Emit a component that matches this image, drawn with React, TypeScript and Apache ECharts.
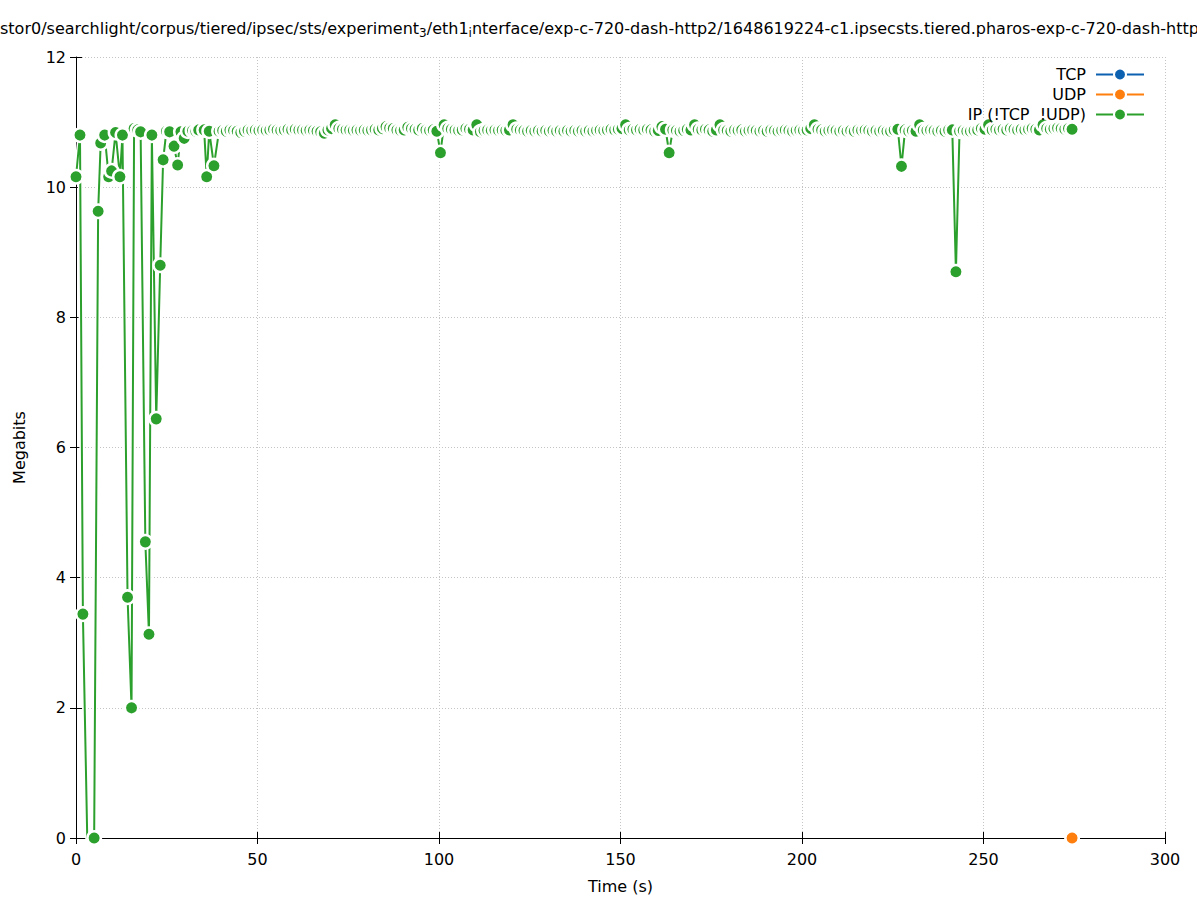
import React, { useEffect, useRef } from 'react';
import * as echarts from 'echarts';

// ---- data ----
// first 40 s (irregular spacing, deep drops)
const ipTimeEarlyS = [
  0.0, 1.1, 1.9, 3.1, 5.0, 6.1, 6.8, 7.9, 9.0, 9.8, 10.9, 12.1, 12.8, 14.2, 15.3, 16.0, 17.0, 17.8,
  19.1, 20.1, 20.9, 22.1, 23.2, 24.0, 24.9, 25.8, 27.0, 28.0, 28.9, 29.8, 30.8, 32.1, 33.0, 33.8,
  35.3, 36.0, 36.7, 38.0,
];
const ipMegabitsEarly = [
  10.16, 10.8, 3.44, 0.0, 0.0, 9.63, 10.68, 10.8, 10.16, 10.25, 10.84, 10.16, 10.8, 3.7, 2.0, 10.9, 10.88, 10.85,
  4.55, 3.13, 10.8, 6.44, 8.8, 10.42, 10.86, 10.85, 10.63, 10.34, 10.85, 10.75, 10.86, 10.87, 10.86, 10.88,
  10.88, 10.16, 10.86, 10.33,
];
// rest of the capture, one sample per second
const ipTimeLateS = [
  39.4, 40.4, 41.4, 42.4, 43.4, 44.4, 45.4, 46.4, 47.4, 48.4,
  49.4, 50.4, 51.4, 52.4, 53.4, 54.4, 55.4, 56.4, 57.4, 58.4,
  59.4, 60.4, 61.4, 62.4, 63.4, 64.4, 65.4, 66.4, 67.4, 68.4,
  69.4, 70.4, 71.4, 72.4, 73.4, 74.4, 75.4, 76.4, 77.4, 78.4,
  79.4, 80.4, 81.4, 82.4, 83.4, 84.4, 85.4, 86.4, 87.4, 88.4,
  89.4, 90.4, 91.4, 92.4, 93.4, 94.4, 95.4, 96.4, 97.4, 98.4,
  99.4, 100.4, 101.4, 102.4, 103.4, 104.4, 105.4, 106.4, 107.4, 108.4,
  109.4, 110.4, 111.4, 112.4, 113.4, 114.4, 115.4, 116.4, 117.4, 118.4,
  119.4, 120.4, 121.4, 122.4, 123.4, 124.4, 125.4, 126.4, 127.4, 128.4,
  129.4, 130.4, 131.4, 132.4, 133.4, 134.4, 135.4, 136.4, 137.4, 138.4,
  139.4, 140.4, 141.4, 142.4, 143.4, 144.4, 145.4, 146.4, 147.4, 148.4,
  149.4, 150.4, 151.4, 152.4, 153.4, 154.4, 155.4, 156.4, 157.4, 158.4,
  159.4, 160.4, 161.4, 162.4, 163.4, 164.4, 165.4, 166.4, 167.4, 168.4,
  169.4, 170.4, 171.4, 172.4, 173.4, 174.4, 175.4, 176.4, 177.4, 178.4,
  179.4, 180.4, 181.4, 182.4, 183.4, 184.4, 185.4, 186.4, 187.4, 188.4,
  189.4, 190.4, 191.4, 192.4, 193.4, 194.4, 195.4, 196.4, 197.4, 198.4,
  199.4, 200.4, 201.4, 202.4, 203.4, 204.4, 205.4, 206.4, 207.4, 208.4,
  209.4, 210.4, 211.4, 212.4, 213.4, 214.4, 215.4, 216.4, 217.4, 218.4,
  219.4, 220.4, 221.4, 222.4, 223.4, 224.4, 225.4, 226.4, 227.4, 228.4,
  229.4, 230.4, 231.4, 232.4, 233.4, 234.4, 235.4, 236.4, 237.4, 238.4,
  239.4, 240.4, 241.4, 242.4, 243.4, 244.4, 245.4, 246.4, 247.4, 248.4,
  249.4, 250.4, 251.4, 252.4, 253.4, 254.4, 255.4, 256.4, 257.4, 258.4,
  259.4, 260.4, 261.4, 262.4, 263.4, 264.4, 265.4, 266.4, 267.4, 268.4,
  269.4, 270.4, 271.4, 272.4, 273.4, 274.4,
];
const ipMegabitsLate = [
  10.86, 10.87, 10.86, 10.88, 10.87, 10.86, 10.84, 10.86, 10.88, 10.87,
  10.88, 10.87, 10.88, 10.87, 10.88, 10.89, 10.88, 10.87, 10.88, 10.89,
  10.88, 10.89, 10.88, 10.88, 10.87, 10.88, 10.87, 10.86, 10.85, 10.83,
  10.88, 10.9, 10.96, 10.9, 10.89, 10.88, 10.88, 10.87, 10.88, 10.87,
  10.88, 10.87, 10.88, 10.89, 10.88, 10.9, 10.93, 10.91, 10.9, 10.88,
  10.87, 10.88, 10.92, 10.9, 10.89, 10.88, 10.9, 10.88, 10.87, 10.88,
  10.86, 10.53, 10.96, 10.9, 10.89, 10.88, 10.87, 10.88, 10.9, 10.89,
  10.88, 10.96, 10.85, 10.87, 10.88, 10.87, 10.88, 10.87, 10.88, 10.87,
  10.88, 10.96, 10.89, 10.88, 10.87, 10.86, 10.87, 10.86, 10.87, 10.86,
  10.87, 10.86, 10.87, 10.86, 10.87, 10.86, 10.87, 10.86, 10.87, 10.86,
  10.87, 10.86, 10.87, 10.86, 10.87, 10.88, 10.87, 10.88, 10.89, 10.88,
  10.89, 10.9, 10.96, 10.88, 10.89, 10.88, 10.89, 10.88, 10.89, 10.88,
  10.86, 10.87, 10.93, 10.89, 10.53, 10.88, 10.87, 10.86, 10.87, 10.89,
  10.88, 10.96, 10.89, 10.88, 10.89, 10.88, 10.86, 10.88, 10.96, 10.88,
  10.87, 10.86, 10.88, 10.87, 10.88, 10.86, 10.87, 10.88, 10.87, 10.86,
  10.87, 10.86, 10.88, 10.87, 10.86, 10.87, 10.88, 10.87, 10.86, 10.87,
  10.88, 10.87, 10.88, 10.9, 10.96, 10.89, 10.88, 10.86, 10.87, 10.88,
  10.87, 10.86, 10.87, 10.86, 10.87, 10.86, 10.88, 10.87, 10.88, 10.87,
  10.86, 10.87, 10.86, 10.87, 10.86, 10.86, 10.88, 10.89, 10.32, 10.88,
  10.86, 10.87, 10.86, 10.96, 10.88, 10.87, 10.88, 10.87, 10.86, 10.87,
  10.86, 10.88, 10.88, 8.7, 10.86, 10.87, 10.86, 10.86, 10.87, 10.88,
  10.9, 10.89, 10.96, 10.88, 10.89, 10.88, 10.89, 10.88, 10.9, 10.89,
  10.88, 10.89, 10.88, 10.89, 10.9, 10.89, 10.88, 10.96, 10.9, 10.89,
  10.9, 10.91, 10.9, 10.89, 10.9, 10.89,
];
// vertices of the IP line drawn without a point marker
const ipUnmarkedTimes = [3.1];

const udpTimeS = [274.4];
const udpMegabits = [0];

const tcpTimeS: number[] = [];
const tcpMegabits: number[] = [];

const seriesNames = ['TCP', 'UDP', 'IP (!TCP\u00a0 !UDP)'];
const seriesColors = ['#0c61b0', '#ff7f0e', '#2ca02c'];

const xAxisRange = { min: 0, max: 300, interval: 50 };
const yAxisRange = { min: 0, max: 12, interval: 2 };
const xAxisTitle = 'Time (s)';
const yAxisTitle = 'Megabits';

const titleSegments = [
  'stor0/searchlight/corpus/tiered/ipsec/sts/experiment',
  '3',
  '/eth1',
  'i',
  'nterface/exp-c-720-dash-http2/1648619224-c1.ipsecsts.tiered.pharos-exp-c-720-dash-http',
];
const titleSegmentIsSub = [false, true, false, true, false];

// ---- chart ----
const FONT = "'DejaVu Sans', sans-serif";
const GRID = { left: 76, right: 32, top: 57, bottom: 62 };

function pairs(t: number[], v: number[], unmarked: number[] = []) {
  return t.map((x, i) =>
    unmarked.includes(x) ? { value: [x, v[i]], symbol: 'none' } : { value: [x, v[i]] }
  );
}

function buildOption() {
  const gridLine = { show: true, lineStyle: { color: '#c4c4c4', type: [1, 2] as any, width: 1 } };
  const tick = { show: true, inside: true, length: 6, lineStyle: { color: '#000', width: 1 } };
  const label = { fontFamily: FONT, fontSize: 16, color: '#000' };

  const titleText = titleSegments
    .map((s, i) => `{${titleSegmentIsSub[i] ? 's' : 't'}|${s}}`)
    .join('');

  const ipTime = ipTimeEarlyS.concat(ipTimeLateS);
  const ipValues = ipMegabitsEarly.concat(ipMegabitsLate);

  const lineSeries = (name: string, color: string, data: any[], z: number) => ({
    name,
    type: 'line',
    data,
    z,
    symbol: 'circle',
    symbolSize: 13.5,
    showAllSymbol: true,
    clip: true,
    lineStyle: { color, width: 2 },
    itemStyle: { color, borderColor: '#fff', borderWidth: 2.5 },
    emphasis: { disabled: true },
  });

  return {
    animation: false,
    backgroundColor: '#ffffff',
    textStyle: { fontFamily: FONT },
    graphic: [
      {
        type: 'text',
        x: 0,
        y: 28,
        silent: true,
        style: {
          text: titleText,
          align: 'left',
          verticalAlign: 'middle',
          rich: {
            t: { fontFamily: FONT, fontSize: 16, lineHeight: 22, fill: '#000' },
            s: { fontFamily: FONT, fontSize: 12, lineHeight: 10, verticalAlign: 'bottom', fill: '#000' },
          },
        },
      },
    ],
    legend: {
      data: seriesNames,
      z: 20,
      orient: 'vertical',
      align: 'right',
      right: 52,
      top: 66.5,
      padding: 0,
      itemWidth: 48,
      itemHeight: 15,
      itemGap: 4,
      selectedMode: false,
      textStyle: { fontFamily: FONT, fontSize: 16, color: '#000', lineHeight: 15, padding: [0, 5, 0, 0] },
    },
    grid: { ...GRID, containLabel: false },
    xAxis: [
      {
        type: 'value',
        position: 'bottom',
        ...xAxisRange,
        name: xAxisTitle,
        nameLocation: 'middle',
        nameGap: 40,
        nameTextStyle: { ...label },
        axisLine: { show: true, onZero: false, lineStyle: { color: '#000', width: 1 } },
        axisTick: tick,
        axisLabel: { ...label, margin: 13 },
        splitLine: gridLine,
      },
      {
        type: 'value',
        position: 'top',
        ...xAxisRange,
        axisLine: { show: false },
        axisTick: tick,
        axisLabel: { show: false },
        splitLine: { show: false },
      },
    ],
    yAxis: [
      {
        type: 'value',
        position: 'left',
        ...yAxisRange,
        name: yAxisTitle,
        nameLocation: 'middle',
        nameGap: 49,
        nameTextStyle: { ...label },
        axisLine: { show: true, onZero: false, lineStyle: { color: '#000', width: 1 } },
        axisTick: tick,
        axisLabel: { ...label, margin: 10 },
        splitLine: gridLine,
      },
      {
        type: 'value',
        position: 'right',
        ...yAxisRange,
        axisLine: { show: false },
        axisTick: tick,
        axisLabel: { show: false },
        splitLine: { show: false },
      },
    ],
    series: [
      lineSeries(seriesNames[0], seriesColors[0], pairs(tcpTimeS, tcpMegabits), 3),
      lineSeries(seriesNames[1], seriesColors[1], pairs(udpTimeS, udpMegabits), 3),
      {
        name: 'ip-halo',
        type: 'line',
        data: pairs(ipTime, ipValues),
        z: 2,
        symbol: 'none',
        silent: true,
        lineStyle: { color: '#ffffff', width: 5 },
        emphasis: { disabled: true },
      },
      lineSeries(seriesNames[2], seriesColors[2], pairs(ipTime, ipValues, ipUnmarkedTimes), 4),
    ],
  };
}

export default function App() {
  const ref = useRef<HTMLDivElement>(null);
  useEffect(() => {
    if (!ref.current) return;
    const chart = echarts.init(ref.current, null, { renderer: 'svg' });
    chart.setOption(buildOption() as any);
    return () => chart.dispose();
  }, []);
  return (
    <div
      ref={ref}
      style={{ position: 'absolute', left: 0, top: 0, width: 1197, height: 900, background: '#fff', overflow: 'hidden' }}
    />
  );
}
